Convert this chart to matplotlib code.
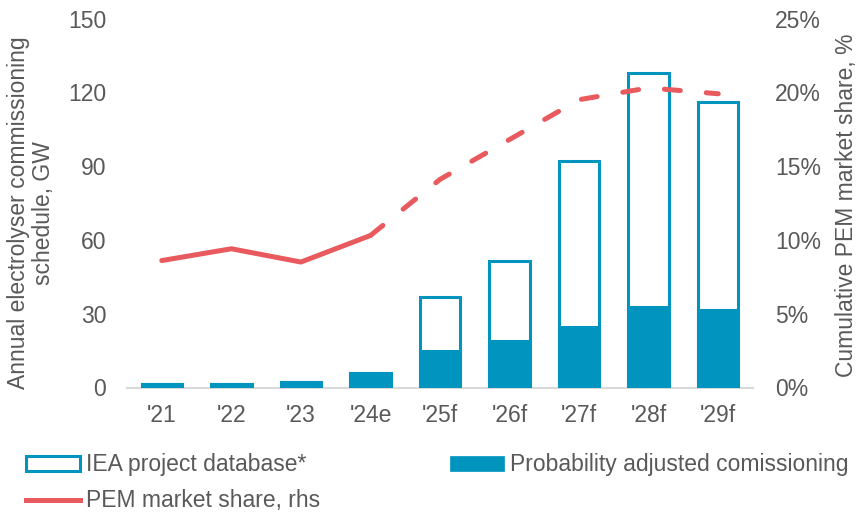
import matplotlib
matplotlib.use("Agg")
import matplotlib.pyplot as plt
from matplotlib.patches import Patch
from matplotlib.lines import Line2D

plt.rcParams['font.family'] = ['Liberation Sans', 'DejaVu Sans']

years = ["'21", "'22", "'23", "'24e", "'25f", "'26f", "'27f", "'28f", "'29f"]
iea_database_gw = [1.3, 1.3, 2.4, 6.0, 36.6, 51.6, 92.2, 127.8, 116.0]
probability_adjusted_gw = [1.3, 1.3, 2.4, 6.0, 14.8, 18.9, 24.7, 32.8, 31.5]
pem_share_pct = [8.6, 9.4, 8.5, 10.3, 14.1, 16.8, 19.5, 20.3, 19.9]
last_actual = 3  # index of '24e: solid up to here, dashed afterwards

blue = '#0094BF'
red = '#E85A5D'
text_col = '#595959'
axis_col = '#D9D9D9'
fs = 16.5

W, H = 865, 513
fig = plt.figure(figsize=(W / 100, H / 100), dpi=100)
ax = fig.add_axes([127 / W, 1 - 387.5 / H, 626 / W, 369 / H])
x = list(range(len(years)))
w = 0.58

ax.bar(x, iea_database_gw, width=w, facecolor='white', edgecolor=blue,
       linewidth=2.2, zorder=2)
ax.bar(x, probability_adjusted_gw, width=w, facecolor=blue, edgecolor=blue,
       linewidth=2.2, zorder=3)

ax.set_xlim(-0.5, len(years) - 0.5)
ax.set_ylim(0, 150)
ax.set_yticks([0, 30, 60, 90, 120, 150])
ax.set_xticks(x)
ax.set_xticklabels(years)
for s in ['top', 'right', 'left']:
    ax.spines[s].set_visible(False)
ax.spines['bottom'].set_color(axis_col)
ax.spines['bottom'].set_linewidth(1.5)
ax.tick_params(axis='both', length=0, labelsize=fs, colors=text_col)
ax.tick_params(axis='y', pad=15)
ax.tick_params(axis='x', pad=12)

ax2 = ax.twinx()
ax2.set_ylim(0, 25)
ax2.set_yticks([0, 5, 10, 15, 20, 25])
ax2.set_yticklabels([f'{v}%' for v in [0, 5, 10, 15, 20, 25]])
for s in ['top', 'right', 'left', 'bottom']:
    ax2.spines[s].set_visible(False)
ax2.tick_params(axis='y', length=0, labelsize=fs, colors=text_col, pad=16)

ax2.plot(x[:last_actual + 1], pem_share_pct[:last_actual + 1], color=red,
         linewidth=3.6, solid_capstyle='round', solid_joinstyle='round', zorder=4)
ax2.plot(x[last_actual:], pem_share_pct[last_actual:], color=red,
         linewidth=3.6, linestyle=(0, (3.2, 5.2)), dash_capstyle='round',
         zorder=4)

# axis titles
fig.text(31 / W, 1 - 213 / H, 'Annual electrolyser commissioning\nschedule, GW',
         rotation=90, ha='center', va='center', multialignment='center',
         fontsize=fs, color=text_col, linespacing=1.15)
fig.text(847 / W, 1 - 205 / H, 'Cumulative PEM market share, %',
         rotation=90, ha='center', va='center', fontsize=fs, color=text_col)

# legend entries, each placed on its own
entries = [
    (Patch(facecolor='white', edgecolor=blue, linewidth=2.2,
           label='IEA project database*'), 26, 465),
    (Patch(facecolor=blue, edgecolor=blue, linewidth=0.5,
           label='Probability adjusted comissioning'), 450, 465),
    (Line2D([], [], color=red, linewidth=3.6, label='PEM market share, rhs'),
     26, 501),
]
for handle, lx, ly in entries:
    leg = fig.legend(handles=[handle], loc='center left',
                     bbox_to_anchor=(lx / W, 1 - ly / H), frameon=False,
                     fontsize=fs, handlelength=2.35, handleheight=0.6,
                     handletextpad=0.25, borderaxespad=0, borderpad=0)
    for t in leg.get_texts():
        t.set_color(text_col)

fig.savefig('out.png', dpi=100)
